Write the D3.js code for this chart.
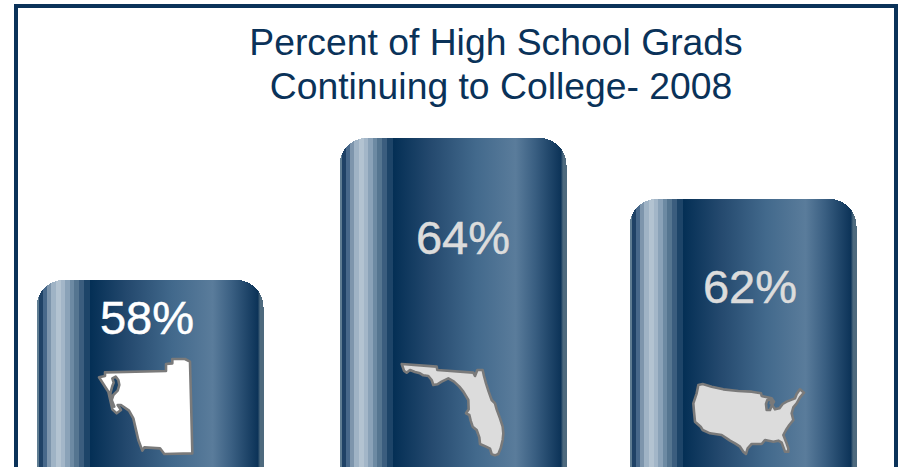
<!DOCTYPE html>
<html>
<head>
<meta charset="utf-8">
<script src="https://cdn.jsdelivr.net/npm/d3@7"></script>
<style>
html, body { margin: 0; padding: 0; background: #fff; overflow: hidden; }
svg { display: block; font-family: "Liberation Sans", Arial, sans-serif; }
</style>
</head>
<body>
<div id="chart"></div>
<script>
const titleLines = ['Percent of High School Grads', 'Continuing to College- 2008'];
const categories = ['Collier County', 'Florida', 'United States'];
const percents = [58, 64, 62];

// icon outlines (3x px, relative to the icon origin)
const collierOutline = [[42,82],[60,78],[60,67],[243,63],[243,42],[262,40],[262,27],[300,27],[315,35],[318,150],[322,310],[238,312],[225,295],[178,292],[172,302],[160,270],[145,205],[132,182],[108,165],[98,165],[108,180],[95,190],[82,178],[70,125]];
const collierInlet = [[82,85],[92,80],[100,90],[103,105],[98,122],[85,135],[80,150],[88,170],[82,165],[76,130],[82,108],[86,98]];
const floridaOutline = [[65,42],[170,50],[172,60],[280,68],[285,78],[292,60],[308,60],[312,78],[318,100],[326,125],[335,150],[345,160],[350,178],[360,205],[368,230],[370,250],[368,270],[362,295],[355,312],[345,316],[335,312],[330,296],[318,290],[300,282],[298,262],[290,240],[278,230],[272,212],[268,195],[258,190],[266,178],[265,150],[250,125],[238,110],[222,95],[205,85],[185,95],[172,103],[160,105],[155,90],[145,78],[130,76],[120,70],[105,66],[90,60],[80,68],[72,62]];
const usOutline = [[55,45],[68,42],[95,50],[130,58],[175,63],[215,65],[243,70],[245,78],[262,82],[275,85],[282,95],[278,102],[272,100],[276,90],[262,90],[258,102],[260,120],[270,120],[276,104],[285,118],[298,115],[308,102],[320,95],[345,85],[350,72],[360,58],[372,68],[360,82],[350,100],[340,112],[335,130],[340,150],[328,165],[318,180],[310,195],[318,215],[325,235],[325,245],[315,245],[305,218],[295,212],[280,215],[255,210],[245,222],[215,222],[203,235],[198,252],[190,245],[180,230],[165,220],[150,212],[140,205],[125,195],[90,190],[68,180],[62,170],[45,155],[42,125],[40,100],[45,85],[50,70]];

const width = 898;
const height = 467;
const navy = '#0a3259';

const svg = d3.select('#chart').append('svg')
    .attr('width', width)
    .attr('height', height);

// the cylinder shading: stepped on the highlight side, smooth across the body
const stops = [
    [0, '#5f7d92'], [0.012, '#5f7d92'], [0.012, '#1f4266'], [0.03, '#1f4266'],
    [0.03, '#47688a'], [0.048, '#47688a'], [0.048, '#7d95ac'], [0.066, '#7d95ac'],
    [0.066, '#9fb3c5'], [0.084, '#9fb3c5'], [0.084, '#b3c3d1'], [0.108, '#b3c3d1'],
    [0.108, '#a3b6c8'], [0.126, '#a3b6c8'], [0.126, '#8aa2b8'], [0.146, '#8aa2b8'],
    [0.146, '#6d8aa3'], [0.166, '#6d8aa3'], [0.166, '#557590'], [0.186, '#557590'],
    [0.186, '#3b5d7e'], [0.21, '#3b5d7e'], [0.21, '#1d4468'], [0.237, '#1d4468'],
    [0.237, '#042f55'], [0.4, '#24496e'], [0.6, '#42698c'],
    [0.776, '#5a7c9b'], [0.86, '#3a5f82'], [0.975, '#0c3358'], [0.985, '#4e6a7e'], [1, '#4e6a7e']
];
const grad = svg.append('defs').append('linearGradient')
    .attr('id', 'barFill');
grad.selectAll('stop')
    .data(stops)
    .enter()
    .append('stop')
    .attr('offset', d => d[0])
    .attr('stop-color', d => d[1]);

// bars are not evenly spaced or proportional in the picture, so both scales are piecewise
const x = d3.scaleOrdinal().domain(categories).range([150, 453, 743]);
const y = d3.scaleLinear().domain([58, 62, 64]).range([280, 199, 138]);
const barWidth = 227;

const iconFor = {
    'Collier County': { rings: [collierOutline, collierInlet], dx: -65, top: 350, fill: '#fff' },
    'Florida': { rings: [floridaOutline], dx: -73, top: 350, fill: '#dcdcdc' },
    'United States': { rings: [usOutline], dx: -63, top: 370, fill: '#dcdcdc' }
};
const labelFor = {
    'Collier County': { dx: -3, baseline: 334, fill: '#fff' },
    'Florida': { dx: 10, baseline: 254, fill: '#dcdcdc' },
    'United States': { dx: 7, baseline: 303, fill: '#dcdcdc' }
};

const data = categories.map((c, i) => ({ category: c, percent: percents[i] }));

svg.selectAll('.bar')
    .data(data)
    .enter()
    .append('rect')
    .attr('class', 'bar')
    .attr('x', d => x(d.category) - barWidth / 2)
    .attr('y', d => y(d.percent))
    .attr('width', barWidth)
    .attr('height', d => height - y(d.percent) + 40)
    .attr('rx', 27)
    .attr('fill', 'url(#barFill)')
    .attr('shape-rendering', 'crispEdges');

const ringPath = d3.line().x(d => d[0] / 3).y(d => d[1] / 3).curve(d3.curveLinearClosed);

svg.selectAll('.icon')
    .data(data)
    .enter()
    .append('path')
    .attr('class', 'icon')
    .attr('transform', d => `translate(${x(d.category) + iconFor[d.category].dx},${iconFor[d.category].top})`)
    .attr('d', d => iconFor[d.category].rings.map(r => ringPath(r)).join(''))
    .attr('fill', d => iconFor[d.category].fill)
    .attr('fill-rule', 'evenodd')
    .attr('stroke', '#7a7a7a')
    .attr('stroke-width', 2.6)
    .attr('stroke-linejoin', 'round');

svg.selectAll('.value')
    .data(data)
    .enter()
    .append('text')
    .attr('class', 'value')
    .attr('x', d => x(d.category) + labelFor[d.category].dx)
    .attr('y', d => labelFor[d.category].baseline)
    .attr('text-anchor', 'middle')
    .attr('font-size', 47)
    .attr('fill', d => labelFor[d.category].fill)
    .attr('stroke', d => labelFor[d.category].fill)
    .attr('stroke-width', 0.5)
    .text(d => `${d.percent}%`);

svg.selectAll('.title')
    .data(titleLines)
    .enter()
    .append('text')
    .attr('class', 'title')
    .attr('x', (d, i) => i === 0 ? 496 : 501)
    .attr('y', (d, i) => 55 + i * 44)
    .attr('text-anchor', 'middle')
    .attr('font-size', 37.3)
    .attr('fill', navy)
    .text(d => d);

// frame, open at the bottom where the picture is cut off
svg.append('path')
    .attr('d', d3.line()([[16, height + 5], [16, 6], [896, 6], [896, height + 5]]))
    .attr('fill', 'none')
    .attr('stroke', navy)
    .attr('stroke-width', 4);
</script>
</body>
</html>
